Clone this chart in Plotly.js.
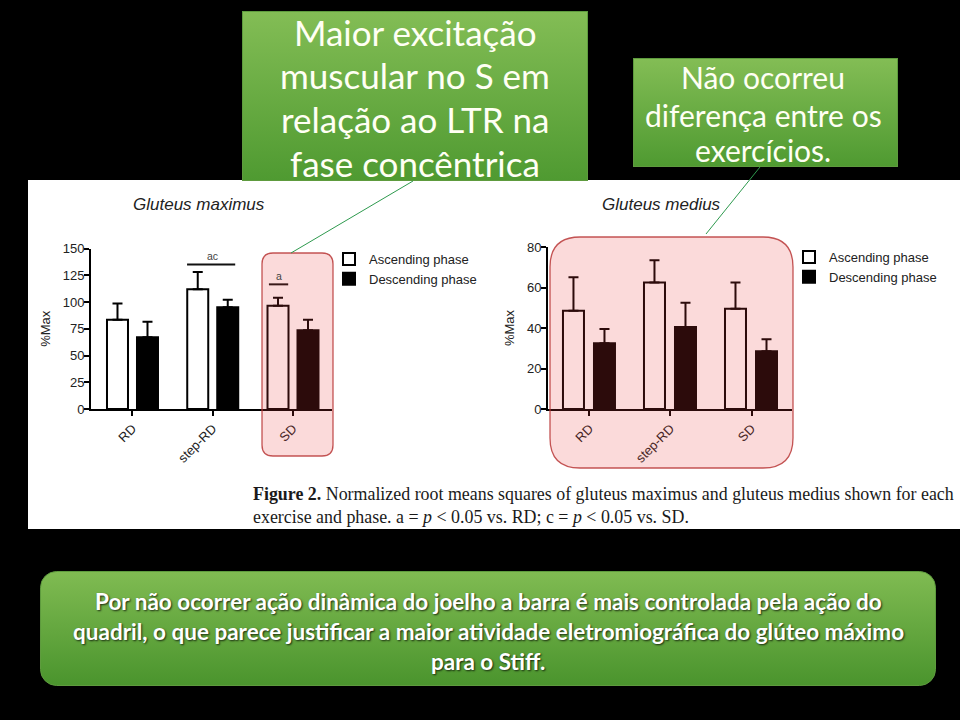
<!DOCTYPE html>
<html><head><meta charset="utf-8">
<script src="https://cdn.plot.ly/plotly-3.0.1.min.js"></script>
<style>html,body{margin:0;padding:0;background:#000;}#chart{width:960px;height:720px;}</style>
</head><body><div id="chart"></div>
<script>
// ---------- data ----------
const exercises = ['RD', 'step-RD', 'SD'];
const phaseNames = ['Ascending phase', 'Descending phase'];
const gmaxAscending = [83.5, 112, 96.5];
const gmaxAscendingErr = [15, 16, 7.5];
const gmaxDescending = [67, 95, 73.5];
const gmaxDescendingErr = [14.5, 7, 10];
const gmedAscending = [48.5, 62.5, 49.5];
const gmedAscendingErr = [16.5, 11, 13];
const gmedDescending = [32.5, 40.5, 28.5];
const gmedDescendingErr = [7, 12, 6];
const muscleTitles = ['Gluteus maximus', 'Gluteus medius'];
const yAxisTitle = '%Max';
const sigLabels = ['ac', 'a'];
const captionLines = [
  '<b>Figure 2.</b> Normalized root means squares of gluteus maximus and gluteus medius shown for each',
  'exercise and phase. a = <i>p</i> &lt; 0.05 vs. RD; c = <i>p</i> &lt; 0.05 vs. SD.'
];
const box1Lines = ['Maior excitação', 'muscular no S em', 'relação ao LTR na', 'fase concêntrica'];
const box2Lines = ['Não ocorreu', 'diferença entre os', 'exercícios.'];
const bottomLines = [
  'Por não ocorrer ação dinâmica do joelho a barra é mais controlada pela ação do',
  'quadril, o que parece justificar a maior atividade eletromiográfica do glúteo máximo',
  'para o Stiff.'
];

// ---------- helpers ----------
const W = 960, H = 720;
const X = px => px / W;
const Y = py => 1 - py / H;
const AX = 'Arial, "Liberation Sans", sans-serif';
const CAL = 'Lato, "Open Sans", sans-serif';

function roundRectPath(x0, y0, x1, y1, r) {
  const P = (x, y) => X(x) + ',' + Y(y);
  return 'M' + P(x0 + r, y0) + ' L' + P(x1 - r, y0) + ' Q' + P(x1, y0) + ' ' + P(x1, y0 + r) +
    ' L' + P(x1, y1 - r) + ' Q' + P(x1, y1) + ' ' + P(x1 - r, y1) +
    ' L' + P(x0 + r, y1) + ' Q' + P(x0, y1) + ' ' + P(x0, y1 - r) +
    ' L' + P(x0, y0 + r) + ' Q' + P(x0, y0) + ' ' + P(x0 + r, y0) + ' Z';
}

function greenBoxImage(x0, y0, x1, y1, r, top, bottom) {
  const w = x1 - x0, h = y1 - y0;
  const svg = '<svg xmlns="http://www.w3.org/2000/svg" width="' + w + '" height="' + h + '" viewBox="0 0 ' + w + ' ' + h + '">' +
    '<defs><linearGradient id="g" x1="0" y1="0" x2="0" y2="1">' +
    '<stop offset="0" stop-color="' + top + '"/><stop offset="1" stop-color="' + bottom + '"/></linearGradient></defs>' +
    '<rect x="0.5" y="0.5" width="' + (w - 1) + '" height="' + (h - 1) + '" rx="' + r + '" ry="' + r + '" fill="url(#g)" stroke="#5e9b3e" stroke-width="1"/></svg>';
  return {
    source: 'data:image/svg+xml;charset=utf-8,' + encodeURIComponent(svg),
    xref: 'paper', yref: 'paper', x: X(x0), y: Y(y0), sizex: w / W, sizey: h / H,
    xanchor: 'left', yanchor: 'top', sizing: 'stretch', layer: 'above'
  };
}

function bars(vals, errs, name, asc, xa, ya, legend, offset, width, showlegend) {
  return {
    type: 'bar', x: exercises, y: vals, name: name, xaxis: xa, yaxis: ya, legend: legend,
    offset: offset, width: width, showlegend: showlegend,
    marker: { color: asc ? '#ffffff' : '#000000', line: { color: '#000', width: 2 } },
    error_y: { type: 'data', symmetric: false, array: errs, arrayminus: errs.map(() => 0),
      color: '#000', thickness: 2, width: 5 },
    hoverinfo: 'skip'
  };
}

// left: 80.25 px per category, right: 81 px per category
const data = [
  bars(gmaxAscending, gmaxAscendingErr, phaseNames[0], true, 'x', 'y', 'legend', -25.5 / 80.25, 21 / 80.25, true),
  bars(gmaxDescending, gmaxDescendingErr, phaseNames[1], false, 'x', 'y', 'legend', 4.5 / 80.25, 21 / 80.25, true),
  bars(gmedAscending, gmedAscendingErr, phaseNames[0], true, 'x2', 'y2', 'legend2', -26.5 / 81, 21 / 81, true),
  bars(gmedDescending, gmedDescendingErr, phaseNames[1], false, 'x2', 'y2', 'legend2', 4.5 / 81, 21 / 81, true)
];

const tickFont = { family: AX, size: 13, color: '#222' };
function xAxis(d0, d1, r0, r1, anchor) {
  return { domain: [X(d0), X(d1)], range: [r0, r1], anchor: anchor, type: 'category',
    showline: true, linecolor: '#000', linewidth: 2, ticks: 'outside', ticklen: 5, tickwidth: 2,
    tickcolor: '#000', tickangle: -45, tickfont: tickFont, showgrid: false, zeroline: false, fixedrange: true };
}
function yAxis(top, bottom, rmax, dtick, anchor) {
  return { domain: [Y(bottom), Y(top)], range: [0, rmax], dtick: dtick, tick0: 0, anchor: anchor,
    showline: true, linecolor: '#000', linewidth: 2, ticks: 'outside', ticklen: 5, tickwidth: 2,
    tickcolor: '#000', tickfont: tickFont, showgrid: false, zeroline: false, fixedrange: true,
    ticklabelstandoff: -3,
    title: { text: yAxisTitle, font: { family: AX, size: 13, color: '#222' }, standoff: 9 } };
}

const shapes = [
  { type: 'rect', xref: 'paper', yref: 'paper', x0: X(28), x1: X(960), y0: Y(180), y1: Y(529),
    fillcolor: '#ffffff', line: { width: 0 }, layer: 'below' },
  // significance bars
  { type: 'line', xref: 'x', yref: 'y', x0: 1 - 0.32, x1: 1 + 0.28, y0: 135, y1: 135, line: { color: '#111', width: 2 } },
  { type: 'line', xref: 'x', yref: 'y', x0: 2 - 0.30, x1: 2 - 0.06, y0: 116.5, y1: 116.5, line: { color: '#111', width: 2 } },
  // pink highlight boxes
  { type: 'path', xref: 'paper', yref: 'paper', path: roundRectPath(262, 253, 333, 456, 11),
    fillcolor: 'rgba(235,60,60,0.19)', line: { color: 'rgba(185,55,55,0.85)', width: 1.3 }, layer: 'above' },
  { type: 'path', xref: 'paper', yref: 'paper', path: roundRectPath(550, 237, 793, 468, 30),
    fillcolor: 'rgba(235,60,60,0.19)', line: { color: 'rgba(185,55,55,0.85)', width: 1.3 }, layer: 'above' },
  // connector lines
  { type: 'line', xref: 'paper', yref: 'paper', x0: X(413), y0: Y(181), x1: X(291), y1: Y(253),
    line: { color: '#2e9a4e', width: 1 }, layer: 'above' },
  { type: 'line', xref: 'paper', yref: 'paper', x0: X(760), y0: Y(167), x1: X(706), y1: Y(234),
    line: { color: '#2e9a4e', width: 1 }, layer: 'above' }
];

const annotations = [];
function ann(text, px, py, font, xanchor) {
  annotations.push({ text: text, xref: 'paper', yref: 'paper', x: X(px), y: Y(py),
    xanchor: xanchor || 'center', yanchor: 'middle', showarrow: false, font: font });
}
ann('<i>' + muscleTitles[0] + '</i>', 199, 204, { family: AX, size: 17, color: '#222' });
ann('<i>' + muscleTitles[1] + '</i>', 661, 204, { family: AX, size: 17, color: '#222' });
ann(sigLabels[0], 212, 256, { family: AX, size: 10.5, color: '#444' });
ann(sigLabels[1], 279, 276, { family: AX, size: 10.5, color: '#444' });
ann(captionLines[0], 251, 494, { family: '"Liberation Serif", serif', size: 17.9, color: '#1a1a1a' }, 'left');
ann(captionLines[1], 251, 517, { family: '"Liberation Serif", serif', size: 17.9, color: '#1a1a1a' }, 'left');
const box1Y = [32, 75, 119, 163];
box1Lines.forEach((t, i) => ann(t, 415, box1Y[i], { family: CAL, size: 35, color: '#fffff4' }));
const box2Y = [77, 115, 150];
box2Lines.forEach((t, i) => ann(t, 763, box2Y[i], { family: CAL, size: 30, color: '#fffff4' }));
const bottomY = [601, 631, 661];
bottomLines.forEach((t, i) => ann(t, 488, bottomY[i], { family: CAL, size: 22.5, color: '#ffffff', weight: 'bold',
  shadow: '1px 1px 2px rgba(0,0,0,0.75)' }));

const legendBase = { bgcolor: 'rgba(0,0,0,0)', borderwidth: 0, font: { family: AX, size: 13, color: '#222' },
  xanchor: 'left', yanchor: 'top', traceorder: 'normal', itemclick: false, itemdoubleclick: false };

const layout = {
  width: W, height: H, autosize: false,
  margin: { l: 0, r: 0, t: 0, b: 0, pad: 0 },
  paper_bgcolor: '#000000', plot_bgcolor: 'rgba(0,0,0,0)',
  barmode: 'overlay',
  xaxis: xAxis(91, 332, -0.517, 2.486, 'y'),
  yaxis: yAxis(248.5, 409, 150, 25, 'x'),
  xaxis2: xAxis(548, 792, -0.512, 2.5, 'y2'),
  yaxis2: yAxis(247, 409, 80, 20, 'x2'),
  legend: Object.assign({}, legendBase, { x: X(329), y: Y(244) }),
  legend2: Object.assign({}, legendBase, { x: X(789), y: Y(242) }),
  shapes: shapes,
  annotations: annotations,
  images: [
    greenBoxImage(242, 11, 588, 181, 0, '#83bd55', '#4f9a31'),
    greenBoxImage(633, 58, 898, 167, 0, '#83bd55', '#4f9a31'),
    greenBoxImage(40, 571, 936, 686, 16, '#80bb52', '#4a942d')
  ]
};

Plotly.newPlot('chart', data, layout, { displayModeBar: false, staticPlot: true });
</script>
</body></html>
